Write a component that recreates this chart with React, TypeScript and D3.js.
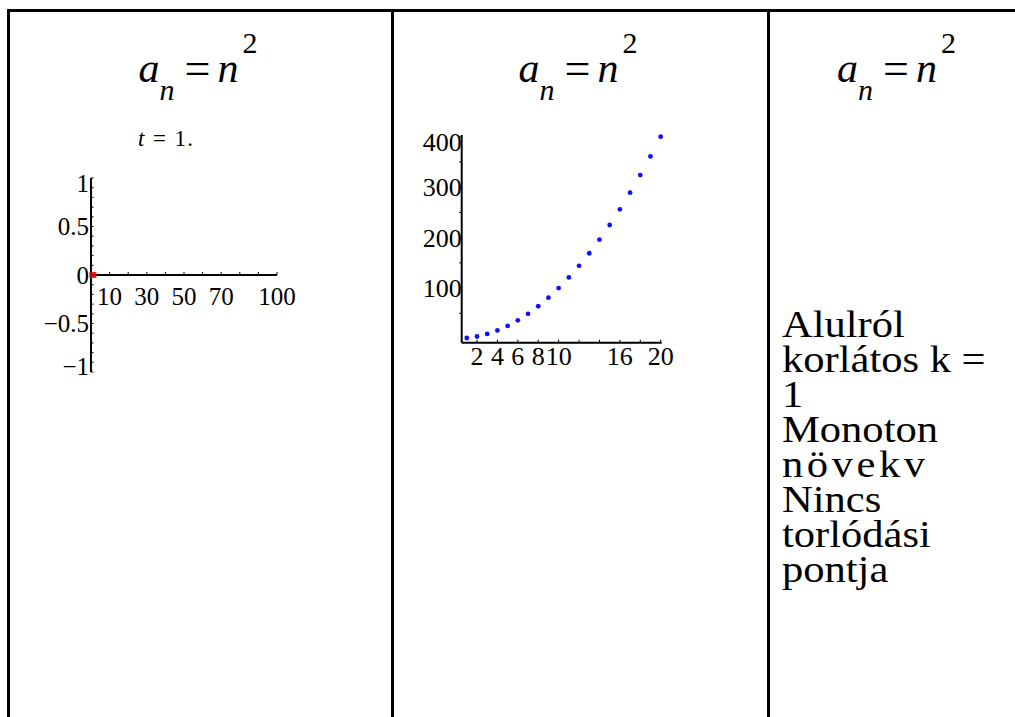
import React from "react";
import * as d3 from "d3";

const SERIF = "'Liberation Serif', 'Times New Roman', Times, serif";

// ---- data ----
const formulaBase = "a";
const formulaIndex = "n";
const formulaRhs = "n";
const formulaExp = "2";

const frameVar = "t";
const frameTime = "1.";

// animated frame: single point of the sequence shown at t = 1
const animX = [1];
const animY = [0];
const animXTicks = [10, 30, 50, 70, 100];
const animXMinor = [10, 20, 30, 40, 50, 60, 70, 80, 90, 100];
const animYTicks = [-1, -0.5, 0, 0.5, 1];
const animYLabels = ["−1", "−0.5", "0", "0.5", "1"];
const animYMinor = [-1, -0.9, -0.8, -0.7, -0.6, -0.5, -0.4, -0.3, -0.2, -0.1, 0.1, 0.2, 0.3, 0.4, 0.5, 0.6, 0.7, 0.8, 0.9, 1];

// sequence a_n = n^2 for n = 1..20
const seqN = [1, 2, 3, 4, 5, 6, 7, 8, 9, 10, 11, 12, 13, 14, 15, 16, 17, 18, 19, 20];
const seqA = [1, 4, 9, 16, 25, 36, 49, 64, 81, 100, 121, 144, 169, 196, 225, 256, 289, 324, 361, 400];
const seqXTicks = [2, 4, 6, 8, 10, 16, 20];
const seqXMinor = [2, 4, 6, 8, 10, 12, 14, 16, 18, 20];
const seqYTicks = [100, 200, 300, 400];
const seqYMinor = [50, 100, 150, 200, 250, 300, 350, 400];

const summaryLines = ["Alulról", "korlátos k =", "1", "Monoton", "növekv", "Nincs", "torlódási", "pontja"];

// ---- layout ----
const W = 1015;
const H = 717;
const colCenters = [200.5, 580.5, 899];
const dividers = [8.5, 392.5, 768.5];

function Formula({ cx }: { cx: number }) {
  return (
    <g fontFamily={SERIF} fill="#000">
      <text x={cx - 62} y={82} fontSize={42} fontStyle="italic">{formulaBase}</text>
      <text x={cx - 41} y={100} fontSize={30} fontStyle="italic">{formulaIndex}</text>
      <text x={cx - 16} y={84} fontSize={46}>=</text>
      <text x={cx + 17} y={82} fontSize={42} fontStyle="italic">{formulaRhs}</text>
      <text x={cx + 42} y={53} fontSize={30}>{formulaExp}</text>
    </g>
  );
}

function AnimPlot() {
  const x = d3.scaleLinear().domain([0, 100]).range([91, 277]);
  const y = d3.scaleLinear().domain([-1, 1]).range([372, 178]);
  const top = y(1);
  const bottom = y(-1);
  const clampY = (v: number) => Math.min(Math.max(y(v), top + 5), bottom - 6);
  return (
    <g fontFamily={SERIF} fill="#000">
      <text x={138} y={146} fontSize={23} letterSpacing={1.4}>
        <tspan fontStyle="italic">{frameVar}</tspan>
        <tspan> = {frameTime}</tspan>
      </text>
      <line x1={x(0)} x2={x(0)} y1={top} y2={bottom} stroke="#000" strokeWidth={2} />
      <line x1={x(0)} x2={x(100)} y1={y(0)} y2={y(0)} stroke="#000" strokeWidth={2} />
      {animYMinor.map((v) => (
        <line key={"ym" + v} x1={x(0)} x2={x(0) + 2.5} y1={y(v)} y2={y(v)} stroke="#000" strokeWidth={1} />
      ))}
      {animXMinor.map((v) => (
        <line key={"xm" + v} x1={x(v)} x2={x(v)} y1={y(0)} y2={y(0) - 3} stroke="#000" strokeWidth={1} />
      ))}
      {animYTicks.map((v, i) => (
        <text key={"yl" + v} x={x(0) - 2} y={clampY(v)} dy="0.35em" fontSize={25} textAnchor="end">
          {animYLabels[i]}
        </text>
      ))}
      {animXTicks.map((v) => (
        <text key={"xl" + v} x={x(v)} y={305} fontSize={25} textAnchor="middle">
          {v}
        </text>
      ))}
      {animX.map((v, i) => (
        <rect key={"p" + i} x={x(v) - 3.5} y={y(animY[i]) - 3} width={7} height={6} fill="#e00000" opacity={0.85} />
      ))}
    </g>
  );
}

function SeqPlot() {
  const x = d3.scaleLinear().domain([0.5, 20.1]).range([461.7, 661.7]);
  const y = d3.scaleLinear().domain([-8.3, 403.4]).range([342.7, 135]);
  const top = y(403.4);
  const left = x(0.5);
  const clampY = (v: number) => Math.max(y(v), top + 6.5);
  return (
    <g fontFamily={SERIF} fill="#000">
      <line x1={left} x2={left} y1={top} y2={y(-8.3)} stroke="#000" strokeWidth={2} />
      <line x1={left} x2={x(20.1)} y1={y(-8.3)} y2={y(-8.3)} stroke="#000" strokeWidth={2} />
      {seqYMinor.map((v) => (
        <line key={"ym" + v} x1={left} x2={left - 2.5} y1={y(v)} y2={y(v)} stroke="#000" strokeWidth={1} />
      ))}
      {seqXMinor.map((v) => (
        <line key={"xm" + v} x1={x(v)} x2={x(v)} y1={y(-8.3)} y2={y(-8.3) - 3} stroke="#000" strokeWidth={1} />
      ))}
      {seqYTicks.map((v) => (
        <text key={"yl" + v} x={left} y={clampY(v)} dy="0.35em" fontSize={26} textAnchor="end">
          {v}
        </text>
      ))}
      {seqXTicks.map((v) => (
        <text key={"xl" + v} x={x(v)} y={365} fontSize={26} textAnchor="middle">
          {v}
        </text>
      ))}
      {seqN.map((n, i) => (
        <circle key={"d" + n} cx={x(n)} cy={y(seqA[i])} r={2.4} fill="#1010ff" />
      ))}
    </g>
  );
}

function Summary() {
  // one text block with tightly stacked lines
  return (
    <g transform="translate(782,0) scale(1.15,1)" fontFamily={SERIF} fill="#000" fontSize={37}>
      <text x={0} y={337}>
        {summaryLines.map((line, i) => (
          <tspan
            key={i}
            x={0}
            dy={i === 0 ? 0 : 35}
            letterSpacing={line === "növekv" ? 3.1 : 0}
          >
            {line}
          </tspan>
        ))}
      </text>
    </g>
  );
}

export default function App() {
  return (
    <svg
      width={W}
      height={H}
      style={{ position: "absolute", left: 0, top: 0, background: "#fff" }}
    >
      <rect width={W} height={H} fill="#fff" />
      <line x1={7} x2={W} y1={10.5} y2={10.5} stroke="#000" strokeWidth={3} />
      {dividers.map((d, i) => (
        <line key={"div" + i} x1={d} x2={d} y1={9} y2={H} stroke="#000" strokeWidth={3} />
      ))}
      {colCenters.map((c, i) => (
        <Formula key={"f" + i} cx={c} />
      ))}
      <AnimPlot />
      <SeqPlot />
      <Summary />
    </svg>
  );
}
